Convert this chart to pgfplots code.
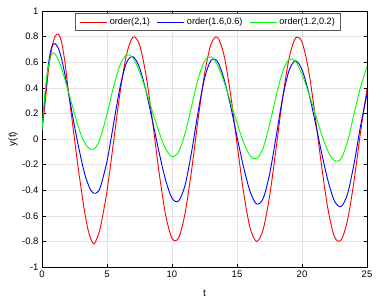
\documentclass[border=0pt]{standalone}
\usepackage{fontspec}
\setmainfont{Liberation Sans}
\usepackage{pgfplots}
\usepackage{pgfplotstable}
\pgfplotsset{compat=1.18}
\pgfplotstableread{
t r b g
0 0.07 0.07 0.07
0.25 0.29 0.35 0.38
0.5 0.54 0.59 0.57
0.75 0.71 0.72 0.665
1.0 0.80 0.745 0.665
1.25 0.82 0.71 0.62
1.5 0.76 0.63 0.555
1.75 0.61 0.51 0.47
2.0 0.40 0.38 0.38
2.25 0.20 0.24 0.29
2.5 0.00 0.10 0.20
2.75 -0.20 -0.03 0.11
3.0 -0.38 -0.15 0.035
3.25 -0.55 -0.26 -0.025
3.5 -0.69 -0.34 -0.062
3.75 -0.78 -0.40 -0.081
4.0 -0.82 -0.424 -0.079
4.25 -0.77 -0.417 -0.047
4.5 -0.687 -0.372 0.012
5 -0.406 -0.175 0.193
5.5 -0.026 0.115 0.406
6 0.360 0.403 0.576
6.5 0.659 0.596 0.658
7 0.796 0.643 0.634
7.5 0.738 0.558 0.527
8 0.499 0.374 0.377
8.5 0.139 0.141 0.213
9 -0.257 -0.101 0.054
9.5 -0.588 -0.318 -0.075
10 -0.776 -0.462 -0.138
10.5 -0.774 -0.485 -0.102
11 -0.583 -0.363 0.042
11.5 -0.249 -0.105 0.254
12 0.147 0.207 0.466
12.5 0.506 0.472 0.608
13 0.741 0.614 0.642
13.5 0.795 0.605 0.578
14 0.654 0.470 0.448
14.5 0.353 0.260 0.289
15 -0.034 0.018 0.126
15.5 -0.413 -0.217 -0.025
16 -0.691 -0.408 -0.129
16.5 -0.800 -0.507 -0.154
17 -0.711 -0.467 -0.073
17.5 -0.451 -0.279 0.111
18 -0.080 0.013 0.332
18.5 0.312 0.316 0.522
19 0.627 0.534 0.621
19.5 0.789 0.611 0.607
20 0.757 0.542 0.504
20.5 0.540 0.369 0.363
21 0.190 0.140 0.201
21.5 -0.205 -0.104 0.039
22 -0.550 -0.326 -0.095
22.5 -0.765 -0.485 -0.170
23 -0.790 -0.528 -0.155
23.5 -0.635 -0.430 -0.020
24 -0.330 -0.195 0.195
24.5 0.050 0.100 0.405
25 0.390 0.350 0.565
}\datatable
\begin{document}
\begin{tikzpicture}
\useasboundingbox (-42bp,-37bp) rectangle (343bp,267bp);
\begin{axis}[
  scale only axis,
  width=325bp, height=256bp,
  xmin=0, xmax=25, ymin=-1, ymax=1,
  xtick={0,5,10,15,20,25},
  ytick={-1,-0.8,-0.6,-0.4,-0.2,0,0.2,0.4,0.6,0.8,1},
  yticklabels={-1,-0.8,-0.6,-0.4,-0.2,0,0.2,0.4,0.6,0.8,1},
  grid=major,
  grid style={gray!22, line width=0.6bp},
  tick align=inside,
  major tick length=3.5bp,
  tick style={black, line width=0.6bp},
  axis line style={black, line width=0.8bp},
  /pgf/number format/assume math mode=true,
  tick label style={font=\fontsize{9.5}{11}\selectfont},
  label style={font=\fontsize{10}{11}\selectfont},
  xlabel={t}, ylabel={y(t)},
  every axis x label/.style={at={(axis description cs:0.5,-0.1016)}, anchor=center},
  every axis y label/.style={at={(axis description cs:-0.0892,0.5)}, rotate=90, anchor=center},
  legend columns=3,
  legend style={at={(axis description cs:0.512,0.992)}, anchor=north,
    font=\fontsize{9.2}{10}\selectfont, draw=black!65, line width=0.9bp,
    inner xsep=4bp, inner ysep=2.5bp,
    /tikz/every even column/.append style={column sep=5bp}},
  legend image code/.code={\draw[#1, line width=0.9bp] (0bp,0bp) -- (27bp,0bp);},
]
\addplot[red, line width=0.9bp, smooth] table[x=t, y=r] {\datatable};
\addplot[blue, line width=0.9bp, smooth] table[x=t, y=b] {\datatable};
\addplot[green, line width=0.9bp, smooth] table[x=t, y=g] {\datatable};
\legend{{order(2,1)}, {order(1.6,0.6)}, {order(1.2,0.2)}}
\end{axis}
\end{tikzpicture}
\end{document}
